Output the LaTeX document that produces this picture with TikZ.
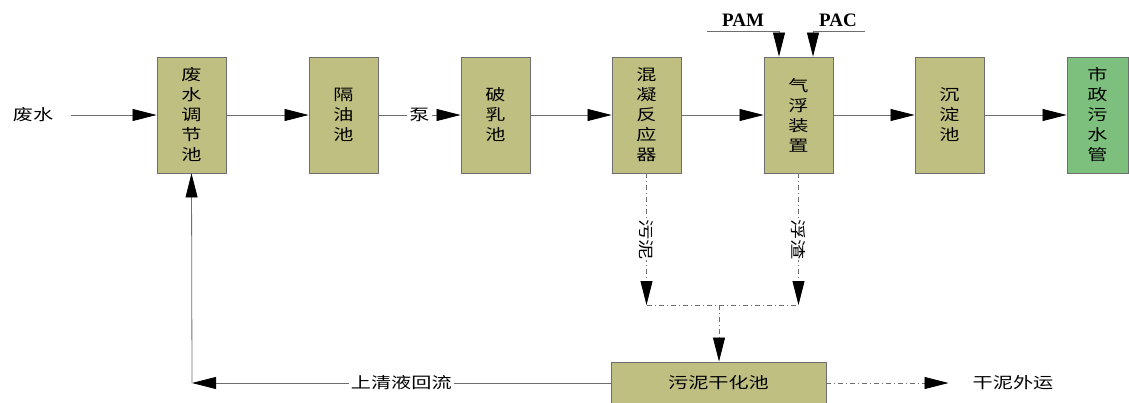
\documentclass[tikz,border=0pt]{standalone}
\usepackage{fontspec}
\newfontfamily\cjk[FakeStretch=1.3]{Noto Sans CJK SC}
\newfontfamily\latinserif{Liberation Serif}
\usetikzlibrary{positioning,arrows.meta}
\definecolor{khaki}{HTML}{BFBF82}
\definecolor{pipegreen}{HTML}{7DC07D}
\definecolor{edgegray}{HTML}{6E6E6E}

\begin{document}
\begin{tikzpicture}[x=1pt, y=-1pt,
    procBox/.style={rectangle, draw=edgegray, fill=khaki, line width=0.9pt, minimum width=69pt, minimum height=116pt, align=center, font=\cjk\fontsize{15.5}{20}\selectfont, inner sep=2pt},
    outBox/.style={procBox, fill=pipegreen, minimum width=61pt},
    flowArrow/.style={-{Triangle[length=24pt, width=12pt, black]}, draw=edgegray, line width=0.8pt},
    sludgeArrow/.style={flowArrow, dash pattern=on 5pt off 3pt on 1pt off 3pt},
    sludgeLine/.style={draw=edgegray, line width=0.8pt, dash pattern=on 5pt off 3pt on 1pt off 3pt},
    plainText/.style={font=\cjk\fontsize{15.5}{20}\selectfont, inner sep=1pt},
    dosing/.style={font=\latinserif\bfseries\fontsize{19}{20}\selectfont, inner sep=1pt}
]
    \useasboundingbox (0,0) rectangle (1129,403);

    \node[procBox] (pool)   at (191.5, 115) {废\\水\\调\\节\\池};
    \node[procBox] (oil)    at (343.5, 115) {隔\\油\\池};
    \node[procBox] (demul)  at (495.5, 115) {破\\乳\\池};
    \node[procBox] (mix)    at (646.5, 115) {混\\凝\\反\\应\\器};
    \node[procBox] (air)    at (798.5, 115) {气\\浮\\装\\置};
    \node[procBox] (settle) at (949.5, 115) {沉\\淀\\池};
    \node[outBox]  (sewer)  at (1097.5, 115) {市\\政\\污\\水\\管};

    \node[procBox, minimum width=215pt, minimum height=42pt] (dry) at (718.5, 383) {污泥干化池};

    \node[plainText] (inTxt)  at (33, 115) {废水};
    \node[plainText] (outTxt) at (1013, 383) {干泥外运};
    \node[dosing] (pam) at (743, 20) {PAM};
    \node[dosing] (pac) at (838, 20) {PAC};

    \coordinate (pamIn) at (707, 31);
    \coordinate (pacIn) at (865, 31);
    \coordinate (sLeft)  at (647, 305);
    \coordinate (sRight) at (798, 305);
    \coordinate (sMid)   at (719, 305);
    \coordinate (retCorner) at (192, 383);

    % main line
    \draw[flowArrow, shorten <=17pt] (inTxt) -- (pool);
    \draw[flowArrow] (pool) -- (oil);
    \draw[flowArrow] (oil) -- node[plainText, fill=white, inner sep=2pt] {泵} (demul);
    \draw[flowArrow] (demul) -- (mix);
    \draw[flowArrow] (mix) -- (air);
    \draw[flowArrow] (air) -- (settle);
    \draw[flowArrow] (settle) -- (sewer);

    % dosing
    \draw[flowArrow] (pamIn) -| ([xshift=-19.5pt]air.north);
    \draw[flowArrow] (pacIn) -| ([xshift=14.5pt]air.north);

    % sludge
    \draw[sludgeArrow] (mix.south) -- node[plainText, fill=white, rotate=-90, pos=0.5] {污泥} (mix.south |- sLeft);
    \draw[sludgeArrow] (air.south) -- node[plainText, fill=white, rotate=-90, pos=0.5] {浮渣} (air.south |- sRight);
    \draw[sludgeLine] (sLeft) -- (sRight);
    \draw[sludgeArrow] (sMid) -- (dry.north -| sMid);
    \draw[sludgeArrow, shorten >=23pt] (dry.east) -- (outTxt.west);

    % return
    \draw[flowArrow] (dry.west) -- node[plainText, fill=white, inner sep=2pt] {上清液回流} (retCorner);
    \draw[flowArrow] (retCorner) -- (pool.south);
\end{tikzpicture}
\end{document}
